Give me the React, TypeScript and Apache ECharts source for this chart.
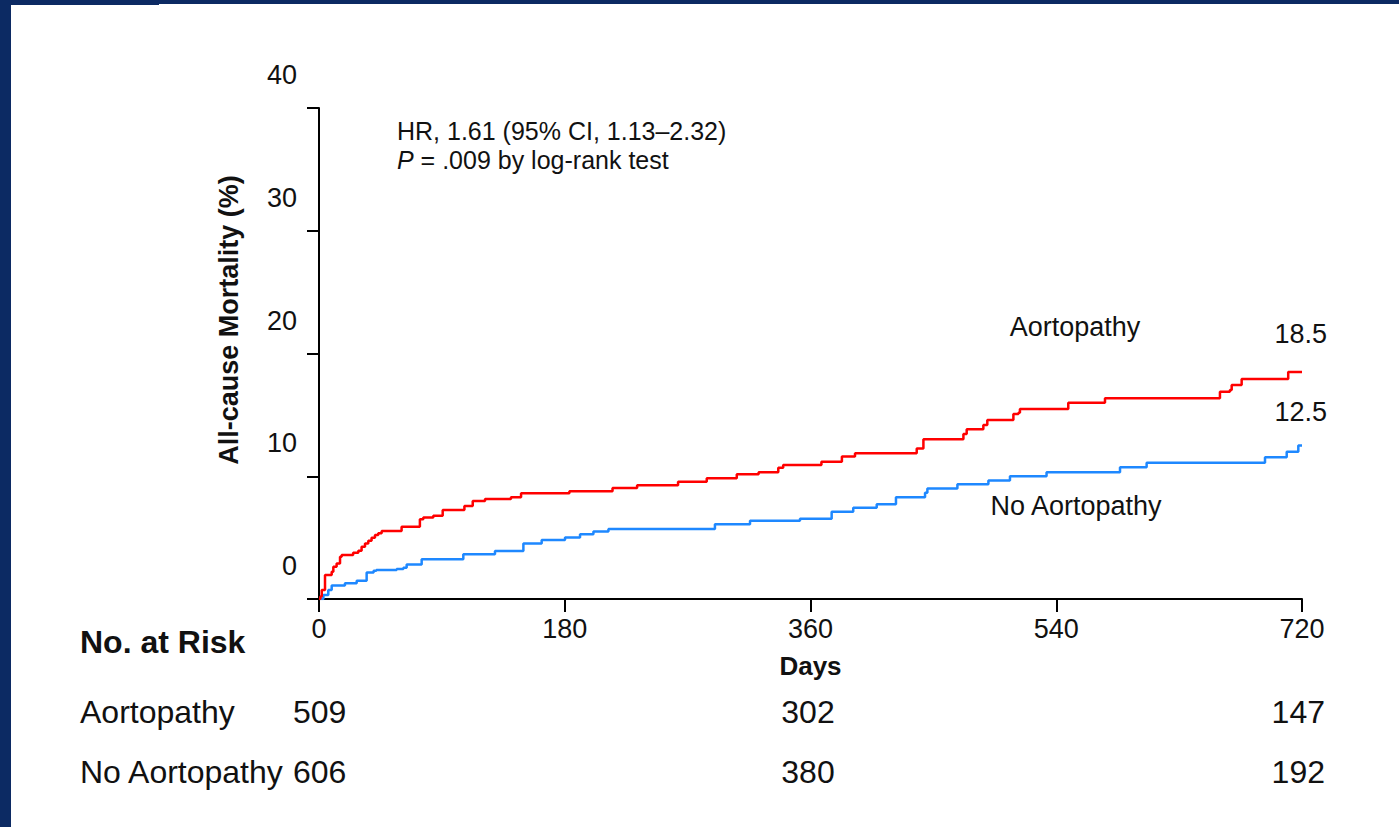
import React, { useEffect, useRef } from "react";
import * as echarts from "echarts";

const xTicks = [0, 180, 360, 540, 720];
const yTicks = [0, 10, 20, 30, 40];

const aortopathy: [number, number][] = [
  [0, 0], [1, 0.2], [2, 0.73], [4.4, 1.96], [9.3, 2.23], [10.5, 2.63], [12.9, 2.9],
  [15.4, 3.45], [16.6, 3.58], [25, 3.77], [28.8, 3.94], [31.2, 4.26], [33.7, 4.53],
  [36.1, 4.75], [38.5, 4.98], [41, 5.21], [43.4, 5.35], [45.9, 5.54], [60.5, 5.89],
  [73.9, 6.49], [76.4, 6.63], [83.7, 6.79], [90.6, 7.25], [106.5, 7.58], [112.6, 7.98],
  [121.6, 8.15], [140.6, 8.28], [148, 8.61], [183.4, 8.77], [215, 9.05], [233, 9.26],
  [263, 9.56], [284, 9.83], [306, 10.16], [322, 10.32], [336.4, 10.7], [340, 10.92],
  [368, 11.19], [383, 11.6], [392.6, 11.87], [437.8, 12.27], [442.7, 13.02], [472, 13.44],
  [474.4, 13.82], [486.6, 14.18], [489.5, 14.58], [508.6, 15.07], [512.3, 15.18],
  [513.4, 15.48], [548.8, 15.99], [575.7, 16.35], [659.9, 16.89], [667.2, 17.03],
  [668.5, 17.43], [675.8, 17.92], [709.9, 18.5], [720, 18.5],
];

const noAortopathy: [number, number][] = [
  [0, 0], [3.2, 0.33], [6.8, 0.73], [9.3, 1.09], [19, 1.28], [27.6, 1.49], [34.9, 2.15],
  [40, 2.3], [42, 2.36], [56.9, 2.44], [61.8, 2.55], [64.2, 2.82], [75.2, 3.23],
  [105.7, 3.64], [128.9, 3.91], [149.7, 4.53], [163.1, 4.81], [180.2, 5.02], [191.2, 5.27],
  [201, 5.49], [212, 5.7], [290, 6.08], [315.7, 6.38], [352.3, 6.54], [375.5, 7.11],
  [391.3, 7.44], [408.5, 7.71], [422.6, 8.28], [443.9, 8.66], [445.6, 9.01], [467.6, 9.34],
  [490.3, 9.65], [506.1, 10.0], [532.9, 10.32], [586.7, 10.73], [606.2, 11.1],
  [692.9, 11.54], [708.8, 12.0], [717.3, 12.5], [720, 12.5],
];

const riskGroups = ["Aortopathy", "No Aortopathy"];
const riskDays = [0, 360, 720];
const riskAortopathy = [509, 302, 147];
const riskNoAortopathy = [606, 380, 192];

const FONT = "'Liberation Sans', Arial, Helvetica, sans-serif";
const INK = "#111111";
const NAVY = "#0c2a63";

export default function App() {
  const ref = useRef<HTMLDivElement>(null);

  useEffect(() => {
    if (!ref.current) return;
    const chart = echarts.init(ref.current, undefined, { renderer: "svg" });

    const txt = (
      text: string,
      x: number,
      y: number,
      size: number,
      align: string = "left",
      bold = false,
      extra: any = {}
    ) => ({
      type: "text",
      x,
      y,
      silent: true,
      style: {
        text,
        fontSize: size,
        fontFamily: FONT,
        fontWeight: bold ? "bold" : "normal",
        fill: INK,
        align,
        verticalAlign: "middle",
        ...extra,
      },
    });

    const riskRowY = [712, 772];
    const riskX = [293, 808, 1325];
    const riskAlign = ["left", "center", "right"];
    const riskRows = [riskAortopathy, riskNoAortopathy];
    const riskTexts: any[] = [];
    riskGroups.forEach((g, r) => {
      riskTexts.push(txt(g, 80, riskRowY[r], 32));
      riskDays.forEach((_d, i) => {
        riskTexts.push(txt(String(riskRows[r][i]), riskX[i], riskRowY[r], 32, riskAlign[i]));
      });
    });

    const lastA = aortopathy[aortopathy.length - 1][1];
    const lastN = noAortopathy[noAortopathy.length - 1][1];

    chart.setOption({
      animation: false,
      backgroundColor: "#ffffff",
      grid: {
        left: 319,
        top: 108,
        width: 983,
        height: 491,
        containLabel: false,
        outerBoundsMode: "none",
      },
      xAxis: {
        type: "value",
        min: xTicks[0],
        max: xTicks[xTicks.length - 1],
        interval: 180,
        name: "Days",
        nameLocation: "middle",
        nameGap: 54,
        nameTextStyle: { fontSize: 26, fontWeight: "bold", fontFamily: FONT, color: INK },
        axisLine: { show: true, onZero: false, lineStyle: { color: "#000", width: 2 } },
        axisTick: { show: true, length: 13, lineStyle: { color: "#000", width: 2 } },
        axisLabel: { fontSize: 27, fontFamily: FONT, color: INK, margin: 16 },
        splitLine: { show: false },
      },
      yAxis: {
        type: "value",
        min: yTicks[0],
        max: yTicks[yTicks.length - 1],
        interval: 10,
        axisLine: { show: true, onZero: false, lineStyle: { color: "#000", width: 2 } },
        axisTick: { show: true, length: 12, lineStyle: { color: "#000", width: 2 } },
        axisLabel: {
          margin: 22,
          formatter: (v: number) => `{v|${v}}\n{s| }`,
          rich: {
            v: { fontSize: 27, fontFamily: FONT, color: INK, lineHeight: 30, align: "right" },
            s: { fontSize: 10, lineHeight: 66, align: "right" },
          },
        },
        splitLine: { show: false },
      },
      series: [
        {
          name: "Aortopathy",
          type: "line",
          step: "end",
          data: aortopathy,
          showSymbol: false,
          symbol: "none",
          lineStyle: { color: "#ff0000", width: 2.5 },
          z: 3,
        },
        {
          name: "No Aortopathy",
          type: "line",
          step: "end",
          data: noAortopathy,
          showSymbol: false,
          symbol: "none",
          lineStyle: { color: "#1e88ff", width: 2.5 },
          z: 2,
        },
      ],
      graphic: [
        { type: "rect", shape: { x: 0, y: 0, width: 11, height: 827 }, style: { fill: NAVY }, silent: true },
        { type: "rect", shape: { x: 0, y: 0, width: 159, height: 5 }, style: { fill: NAVY }, silent: true },
        { type: "rect", shape: { x: 159, y: 0, width: 1240, height: 4 }, style: { fill: NAVY }, silent: true },
        {
          type: "text",
          x: 229,
          y: 320,
          rotation: Math.PI / 2,
          silent: true,
          style: {
            text: "All-cause Mortality (%)",
            fontSize: 27,
            fontWeight: "bold",
            fontFamily: FONT,
            fill: INK,
            align: "center",
            verticalAlign: "middle",
          },
        },
        txt("HR, 1.61 (95% CI, 1.13–2.32)", 397, 131, 25),
        {
          type: "text",
          x: 397,
          y: 160,
          silent: true,
          style: {
            text: "{i|P} = .009 by log-rank test",
            fontSize: 25,
            fontFamily: FONT,
            fill: INK,
            align: "left",
            verticalAlign: "middle",
            rich: {
              i: { fontStyle: "italic", fontSize: 25, fontFamily: FONT, fill: INK },
            },
          },
        },
        txt("Aortopathy", 1075, 327, 27, "center"),
        txt(lastA.toFixed(1), 1327, 334, 27, "right"),
        txt(lastN.toFixed(1), 1327, 412, 27, "right"),
        txt("No Aortopathy", 1076, 506, 27, "center"),
        txt("No. at Risk", 80, 642, 32, "left", true),
        ...riskTexts,
      ],
    });

    return () => chart.dispose();
  }, []);

  return (
    <div
      ref={ref}
      style={{ position: "absolute", left: 0, top: 0, width: 1399, height: 827, background: "#fff" }}
    />
  );
}
